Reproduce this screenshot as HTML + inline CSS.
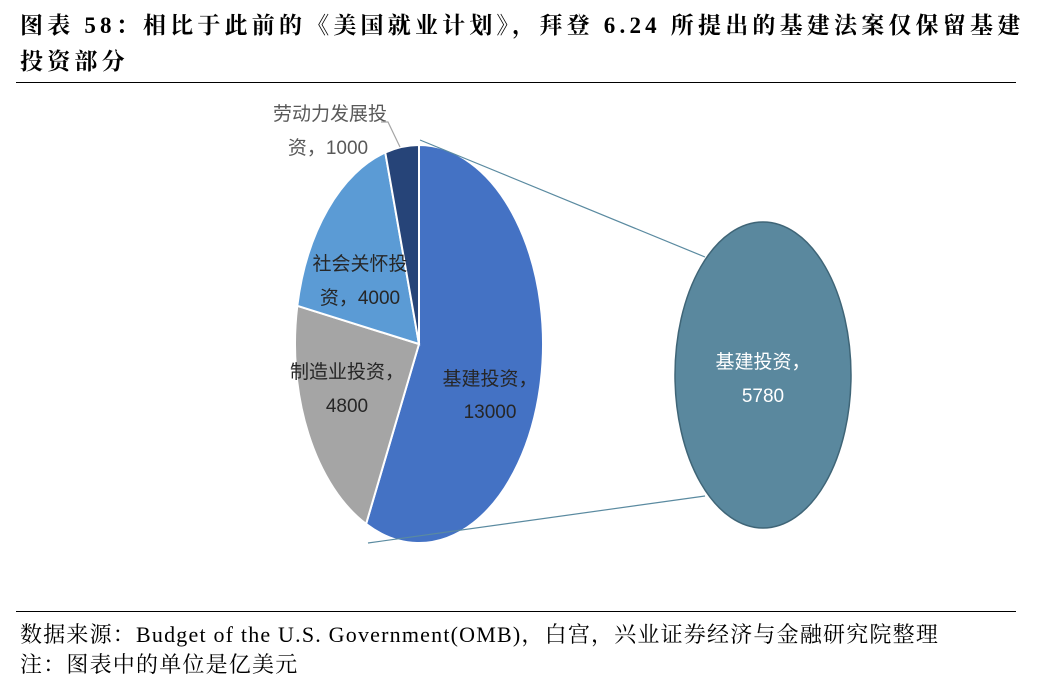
<!DOCTYPE html>
<html><head><meta charset="utf-8">
<style>
body{margin:0;width:1038px;height:688px;background:#fff;overflow:hidden;font-family:"Liberation Serif","Noto Serif CJK SC",serif;}
.title{position:absolute;left:20px;top:8px;font-size:23px;font-weight:bold;line-height:36px;color:#000;width:1015px;letter-spacing:4.2px;}
.rule{position:absolute;left:16px;width:1000px;height:1px;background:#000;}
.foot{position:absolute;left:20px;font-size:22px;color:#000;letter-spacing:1.2px;white-space:nowrap;}
</style></head><body>
<div class="title">图表 58：相比于此前的《美国就业计划》，拜登 6.24 所提出的基建法案仅保留基建投资部分</div>
<div class="rule" style="top:82px"></div>
<svg id="chart" width="1038" height="688" style="position:absolute;left:0;top:0"></svg>
<div class="rule" style="top:611px"></div>
<div class="foot" style="top:618px">数据来源：Budget of the U.S. Government(OMB)，白宫，兴业证券经济与金融研究院整理</div>
<div class="foot" style="top:648px">注：图表中的单位是亿美元</div>
<script>
const categories=["基建投资","制造业投资","社会关怀投资","劳动力发展投资"];
const values=[13000,4800,4000,1000];
const colors=["#4472c4","#a5a5a5","#5b9bd5","#264478"];
const detailLabel="基建投资";
const detailValue=5780;
const NS="http://www.w3.org/2000/svg";
const svg=document.getElementById('chart');
const cx=419,cy=344,rx=124,ry=199;
function mk(t,a){const e=document.createElementNS(NS,t);for(const k in a)e.setAttribute(k,a[k]);svg.appendChild(e);return e;}
function pt(a,sx,sy){return [cx+sx*Math.sin(a),cy-sy*Math.cos(a)];}
const total=values.reduce((a,b)=>a+b,0);
let a0=0;
values.forEach((v,i)=>{
  const a1=a0+v/total*2*Math.PI;
  const p0=pt(a0,rx,ry),p1=pt(a1,rx,ry);
  const large=(a1-a0)>Math.PI?1:0;
  const p=mk('path',{d:`M${cx},${cy}L${p0[0]},${p0[1]}A${rx},${ry} 0 ${large} 1 ${p1[0]},${p1[1]}Z`,fill:colors[i],stroke:'#fff','stroke-width':2});
  
  
  a0=a1;
});
function txt(x,y,s,fill,size,name){const t=mk('text',{x:x,y:y,'text-anchor':'middle','font-size':size||18,fill:fill||'#404040','font-family':'"Liberation Sans Narrow","Liberation Sans","Noto Sans CJK SC",sans-serif'});t.textContent=s;return t;}
txt(490,385,categories[0]+"，",'#262626',19,'label-infra');
txt(490,418,String(values[0]),'#262626',19,'value-infra');
txt(347,378,categories[1]+"，",'#262626',19,'label-manufacturing');
txt(347,412,String(values[1]),'#262626',19,'value-manufacturing');
txt(360,270,"社会关怀投",'#262626',19,'label-social');
txt(360,304,"资，"+values[2],'#262626',19,'value-social');
txt(330,120,"劳动力发展投",'#595959',19,'label-labor');
txt(328,154,"资，"+values[3],'#595959',19,'value-labor');
const l=mk('polyline',{points:'381,122 388,122 400,147',fill:'none',stroke:'#a5a5a5','stroke-width':1.2});

const c1=mk('line',{x1:420,y1:140,x2:705,y2:257,stroke:'#5a8aa0','stroke-width':1.2});

const c2=mk('line',{x1:368,y1:543,x2:705,y2:496,stroke:'#5a8aa0','stroke-width':1.2});

const e=mk('ellipse',{cx:763,cy:375,rx:88,ry:153,fill:'#5a889e',stroke:'#3f6577','stroke-width':1.5});

txt(763,368,detailLabel+"，",'#fff',19,'detail-label');
txt(763,402,String(detailValue),'#fff',19,'detail-value');
</script>
</body></html>
